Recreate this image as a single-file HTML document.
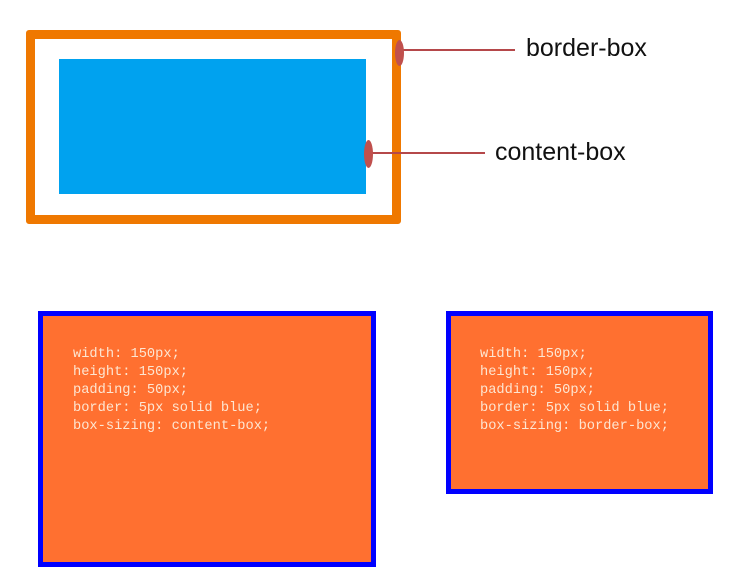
<!DOCTYPE html>
<html><head><meta charset="utf-8"><style>
body{margin:0;width:751px;height:586px;background:#fff;position:relative;overflow:hidden;font-family:"Liberation Sans",sans-serif}
.a{position:absolute}
.code{position:absolute;font-family:"Liberation Mono","Noto Serif CJK SC",monospace;font-size:13.7px;line-height:18px;color:#fde6d2;white-space:pre}
.lbl{position:absolute;font-size:25px;color:#111;line-height:1}
</style></head><body>
<div class="a" style="left:26px;top:30px;width:357px;height:176px;border:9px solid #ef7800;border-radius:3px"></div>
<div class="a" style="left:59px;top:59px;width:307px;height:135px;background:#00a2ef"></div>
<div class="a" style="left:400px;top:49px;width:115px;height:2px;background:#b5484a"></div>
<div class="a" style="left:395px;top:40px;width:9px;height:26px;background:#c0504d;border-radius:50%"></div>
<div class="lbl" style="left:526px;top:36px">border-box</div>
<div class="a" style="left:369px;top:152px;width:116px;height:2px;background:#b5484a"></div>
<div class="a" style="left:364px;top:140px;width:9px;height:28px;background:#c0504d;border-radius:50%"></div>
<div class="lbl" style="left:495px;top:140px">content-box</div>

<div class="a" style="left:38px;top:311px;width:328px;height:246px;border:5px solid #0000ff;background:#ff7030"></div>
<div class="code" style="left:73px;top:346px">width: 150px;
height: 150px;
padding: 50px;
border: 5px solid blue;
box-sizing: content-box;</div>

<div class="a" style="left:446px;top:311px;width:257px;height:173px;border:5px solid #0000ff;background:#ff7030"></div>
<div class="code" style="left:480px;top:346px">width: 150px;
height: 150px;
padding: 50px;
border: 5px solid blue;
box-sizing: border-box;</div>
</body></html>
